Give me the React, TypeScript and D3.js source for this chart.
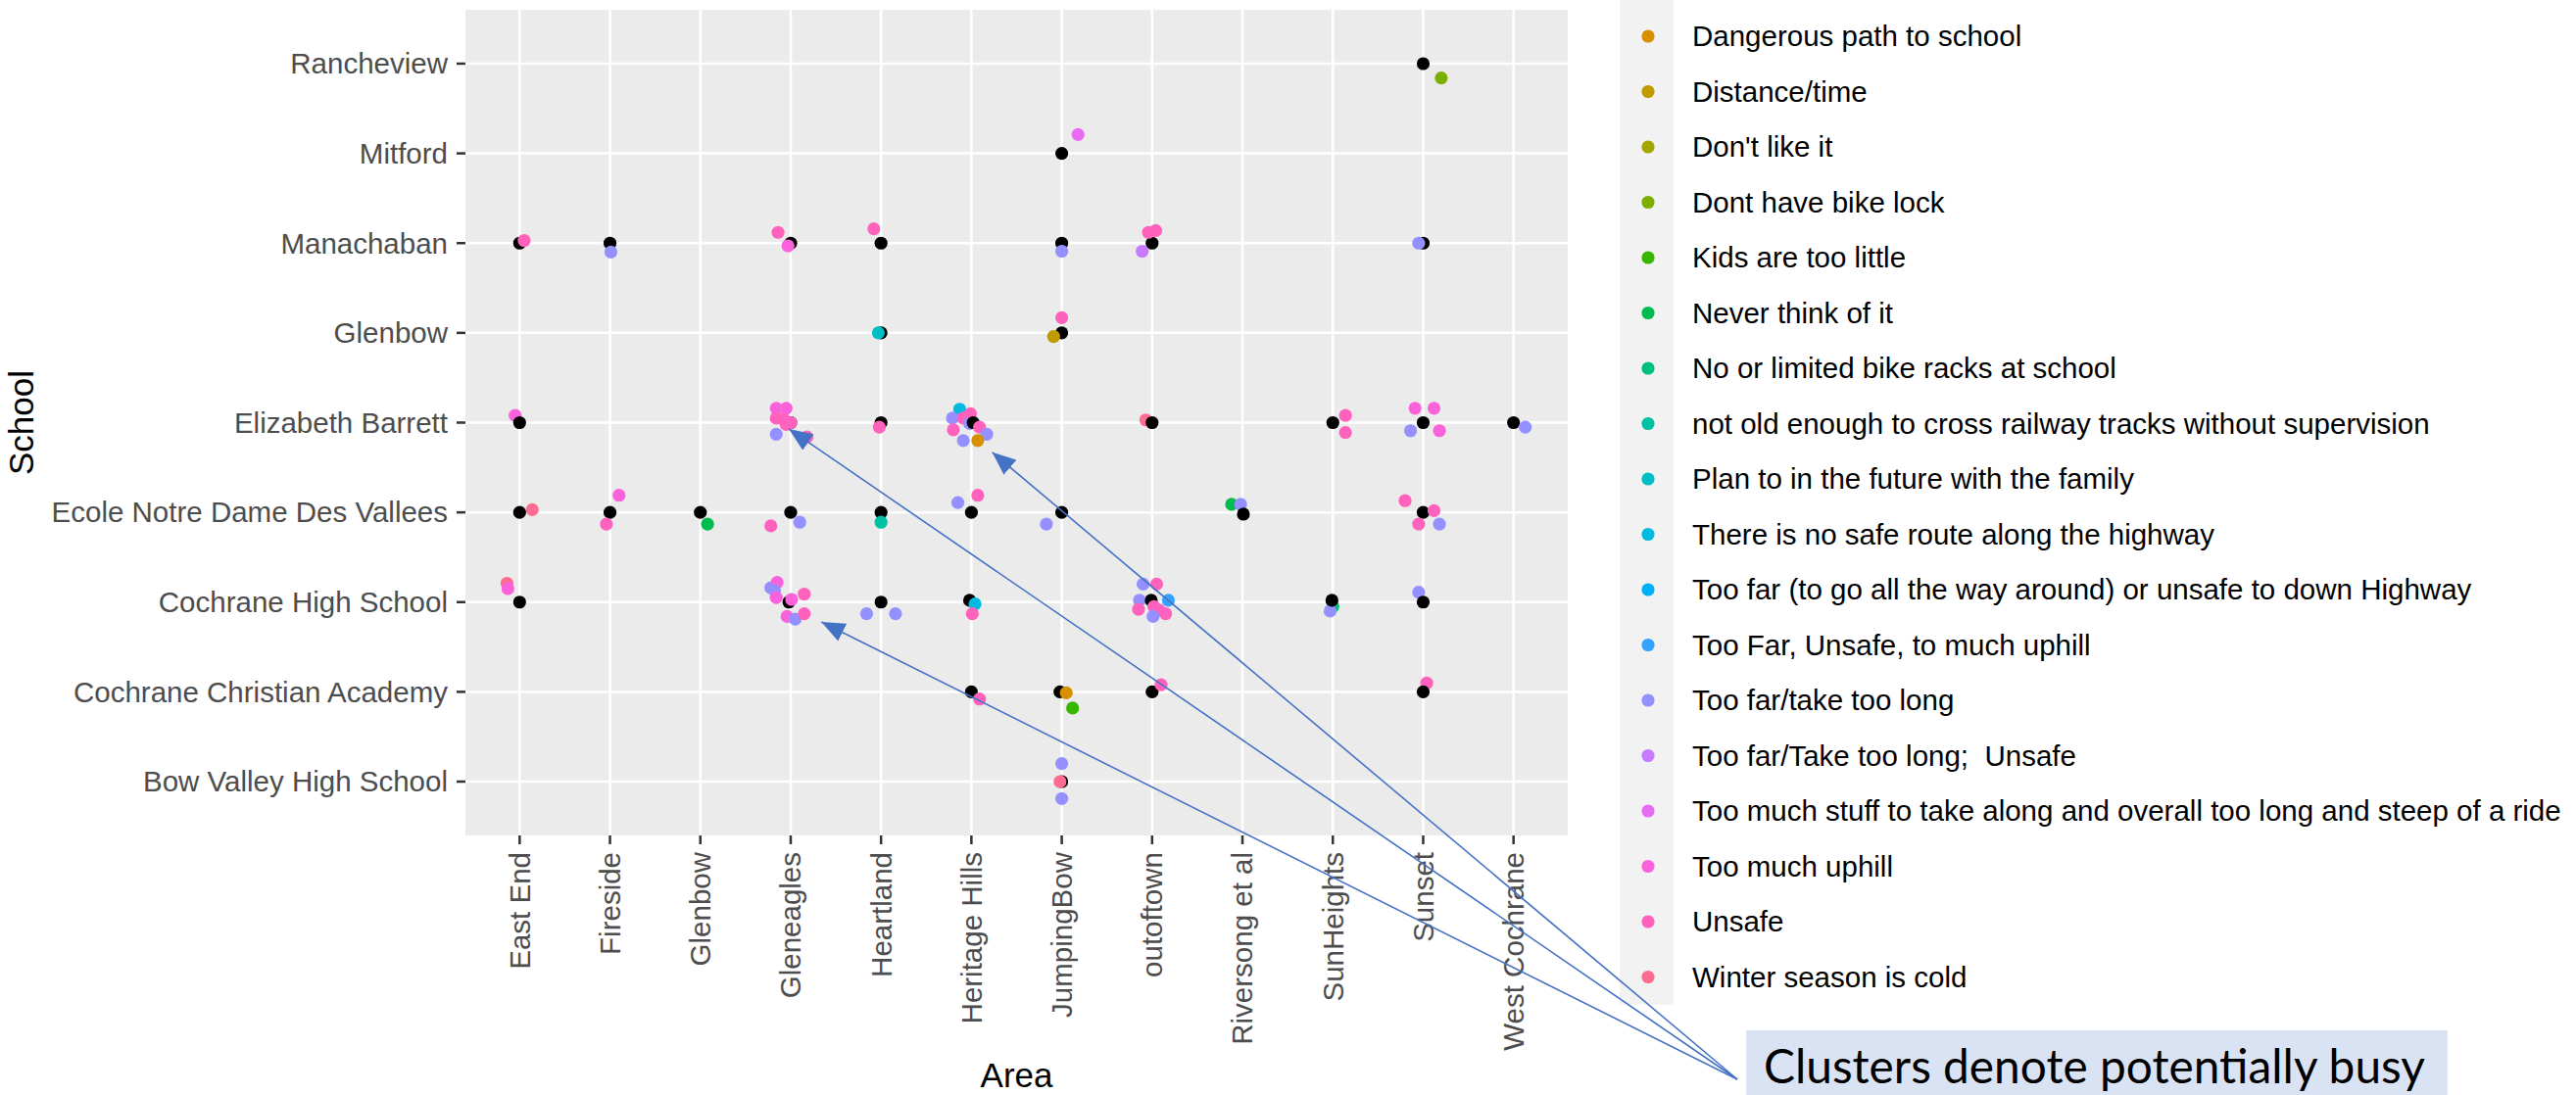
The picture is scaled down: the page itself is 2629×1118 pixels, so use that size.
import React from "react";
import * as d3 from "d3";

// ---------- data ----------
const AREAS = [
  "East End", "Fireside", "Glenbow", "Gleneagles", "Heartland", "Heritage Hills",
  "JumpingBow", "outoftown", "Riversong et al", "SunHeights", "Sunset", "West Cochrane",
];

const SCHOOLS = [
  "Bow Valley High School", "Cochrane Christian Academy", "Cochrane High School",
  "Ecole Notre Dame Des Vallees", "Elizabeth Barrett", "Glenbow", "Manachaban",
  "Mitford", "Rancheview",
];

const REASON_KEYS = ["D", "DT", "DL", "BL", "KD", "N", "R", "O", "P", "H", "TF", "TFU", "FL", "FLU", "MS", "U", "UN", "W"];

const REASON_LABELS = [
  "Dangerous path to school",
  "Distance/time",
  "Don't like it",
  "Dont have bike lock",
  "Kids are too little",
  "Never think of it",
  "No or limited bike racks at school",
  "not old enough to cross railway tracks without supervision",
  "Plan to in the future with the family",
  "There is no safe route along the highway",
  "Too far (to go all the way around) or unsafe to down Highway",
  "Too Far, Unsafe, to much uphill",
  "Too far/take too long",
  "Too far/Take too long;  Unsafe",
  "Too much stuff to take along and overall too long and steep of a ride",
  "Too much uphill",
  "Unsafe",
  "Winter season is cold",
];

const REASON_COLORS = [
  "#D89000", "#C09B00", "#A3A500", "#7CAE00", "#39B600", "#00BB4E", "#00BF7D", "#00C1A3",
  "#00BFC4", "#00BAE0", "#00B0F6", "#35A2FF", "#9590FF", "#C77CFF", "#E76BF3", "#FA62DB",
  "#FF62BC", "#FF6C91",
];

// [area, school, reason key (null = respondent marker), jitter x, jitter y] (jitter in category units)
const EE = "East End", FS = "Fireside", GB = "Glenbow", GE = "Gleneagles", HL = "Heartland",
  HH = "Heritage Hills", JB = "JumpingBow", OT = "outoftown", RS = "Riversong et al",
  SH = "SunHeights", SS = "Sunset", WC = "West Cochrane";
const BV = "Bow Valley High School", CC = "Cochrane Christian Academy", CH = "Cochrane High School",
  EC = "Ecole Notre Dame Des Vallees", EB = "Elizabeth Barrett", GL = "Glenbow", MN = "Manachaban",
  MF = "Mitford", RV = "Rancheview";

const RESPONSES: [string, string, string | null, number, number][] = [
  [EE, MN, null, 0, 0], [EE, MN, "UN", 0.05, 0.03],
  [EE, EB, "U", -0.05, 0.08], [EE, EB, null, 0, 0],
  [EE, EC, null, 0, 0], [EE, EC, "W", 0.14, 0.03],
  [EE, CH, "W", -0.14, 0.21], [EE, CH, "U", -0.13, 0.15], [EE, CH, null, 0, 0],

  [FS, MN, null, 0, 0], [FS, MN, "FL", 0.01, -0.1],
  [FS, EC, null, 0, 0], [FS, EC, "U", 0.1, 0.19], [FS, EC, "UN", -0.04, -0.13],

  [GB, EC, null, 0, 0], [GB, EC, "N", 0.08, -0.13],

  [GE, MN, null, 0, 0], [GE, MN, "UN", -0.14, 0.12], [GE, MN, "U", -0.03, -0.03],
  [GE, EB, null, 0, 0], [GE, EB, "U", -0.16, 0.16], [GE, EB, "U", -0.05, 0.16], [GE, EB, "UN", -0.16, 0.05],
  [GE, EB, "UN", -0.08, 0.04], [GE, EB, "UN", 0, 0], [GE, EB, "UN", -0.05, -0.02], [GE, EB, "FL", -0.16, -0.13],
  [GE, EB, "UN", 0.18, -0.16],
  [GE, EC, null, 0, 0], [GE, EC, "UN", -0.22, -0.15], [GE, EC, "FL", 0.1, -0.11],
  [GE, CH, "FL", -0.22, 0.16], [GE, CH, "U", -0.15, 0.22], [GE, CH, "FL", -0.18, 0.13], [GE, CH, "U", -0.16, 0.05],
  [GE, CH, null, -0.02, 0], [GE, CH, "U", 0.01, 0.03], [GE, CH, "UN", 0.15, 0.09], [GE, CH, "U", -0.04, -0.16],
  [GE, CH, "FL", 0.05, -0.19], [GE, CH, "UN", 0.15, -0.13],

  [HL, MN, null, 0, 0], [HL, MN, "UN", -0.08, 0.16],
  [HL, GL, null, 0, 0], [HL, GL, "P", -0.03, 0],
  [HL, EB, null, 0, 0], [HL, EB, "UN", -0.02, -0.05],
  [HL, EC, null, 0, 0], [HL, EC, "O", 0, -0.11],
  [HL, CH, null, 0, 0], [HL, CH, "FL", -0.16, -0.13], [HL, CH, "FL", 0.16, -0.13],

  [HH, EB, "H", -0.13, 0.15], [HH, EB, "FL", -0.21, 0.05], [HH, EB, "UN", -0.01, 0.1], [HH, EB, "UN", -0.09, 0.05],
  [HH, EB, "FL", -0.02, -0.01], [HH, EB, null, 0.02, 0], [HH, EB, "UN", 0.09, -0.05], [HH, EB, "UN", -0.2, -0.08],
  [HH, EB, "FL", -0.09, -0.2], [HH, EB, "FL", 0.17, -0.13], [HH, EB, "D", 0.07, -0.2],
  [HH, EC, null, 0, 0], [HH, EC, "FL", -0.15, 0.11], [HH, EC, "UN", 0.07, 0.19],
  [HH, CH, null, -0.02, 0.02], [HH, CH, "H", 0.04, -0.02], [HH, CH, "UN", 0.01, -0.13],
  [HH, CC, null, 0, 0], [HH, CC, "UN", 0.09, -0.08],

  [JB, MF, null, 0, 0], [JB, MF, "MS", 0.18, 0.21],
  [JB, MN, null, 0, 0], [JB, MN, "FL", 0, -0.09],
  [JB, GL, "UN", 0, 0.17], [JB, GL, null, 0, 0], [JB, GL, "DT", -0.09, -0.04],
  [JB, EC, null, 0, 0], [JB, EC, "FL", -0.17, -0.13],
  [JB, CC, null, -0.02, 0], [JB, CC, "D", 0.05, -0.01], [JB, CC, "KD", 0.12, -0.18],
  [JB, BV, "FL", 0, 0.2], [JB, BV, null, 0, 0], [JB, BV, "W", -0.02, 0], [JB, BV, "FL", 0, -0.19],

  [OT, MN, null, 0, 0], [OT, MN, "UN", -0.04, 0.12], [OT, MN, "UN", 0.04, 0.14], [OT, MN, "FLU", -0.11, -0.09],
  [OT, EB, "W", -0.07, 0.03], [OT, EB, null, 0, 0],
  [OT, CH, "FL", -0.1, 0.2], [OT, CH, "UN", 0.05, 0.2], [OT, CH, "FL", -0.14, 0.02], [OT, CH, null, -0.01, 0.02],
  [OT, CH, "TFU", 0.18, 0.02], [OT, CH, "UN", -0.15, -0.08], [OT, CH, "UN", 0.02, -0.05], [OT, CH, "UN", 0.08, -0.09],
  [OT, CH, "FL", 0.01, -0.16], [OT, CH, "UN", 0.15, -0.13],
  [OT, CC, null, 0, 0], [OT, CC, "UN", 0.1, 0.08],

  [RS, EC, "N", -0.12, 0.09], [RS, EC, "FL", -0.02, 0.09], [RS, EC, null, 0.01, -0.02],

  [SH, EB, null, 0, 0], [SH, EB, "UN", 0.14, 0.08], [SH, EB, "UN", 0.14, -0.11],
  [SH, CH, "R", 0, -0.05], [SH, CH, "FL", -0.03, -0.1], [SH, CH, null, -0.01, 0.02],

  [SS, RV, null, 0, 0], [SS, RV, "BL", 0.2, -0.16],
  [SS, MN, null, 0, 0], [SS, MN, "FL", -0.05, 0],
  [SS, EB, null, 0, 0], [SS, EB, "U", -0.09, 0.16], [SS, EB, "U", 0.12, 0.16], [SS, EB, "FL", -0.14, -0.09], [SS, EB, "U", 0.18, -0.09],
  [SS, EC, null, 0, 0], [SS, EC, "UN", -0.2, 0.13], [SS, EC, "UN", 0.12, 0.02], [SS, EC, "UN", -0.05, -0.13], [SS, EC, "FL", 0.18, -0.13],
  [SS, CH, "FL", -0.05, 0.11], [SS, CH, null, 0, 0],
  [SS, CC, "UN", 0.04, 0.1], [SS, CC, null, 0, 0],

  [WC, EB, null, 0, 0], [WC, EB, "FL", 0.13, -0.05],
];

// annotation arrows point at these cluster locations: [area, school, offset x, offset y]
const ARROW_TARGETS: [string, string, number, number][] = [
  [GE, EB, -0.02, -0.07],
  [HH, EB, 0.23, -0.33],
  [GE, CH, 0.34, -0.22],
];
const ANNOTATION = "Clusters denote potentially busy";

// ---------- layout ----------
const W = 2629, H = 1118;
const PANEL = { left: 475, right: 1600, top: 10, bottom: 853 };
const FONT = "'Liberation Sans', Arial, sans-serif";
const AXIS_FS = 29.5;
const R = 6.6;

export default function App() {
  const x = d3.scalePoint<string>().domain(AREAS).range([PANEL.left, PANEL.right]).padding(0.6);
  const y = d3.scalePoint<string>().domain(SCHOOLS).range([PANEL.bottom, PANEL.top]).padding(0.6);
  const sx = x.step();
  const sy = y.step();
  const colorOf = (k: string | null) =>
    k === null ? "#000000" : REASON_COLORS[REASON_KEYS.indexOf(k)];

  const legendTop = 37;
  const legendStep = 56.5;
  const legendKeyX = 1682;

  const arrowStart = { x: 1773, y: 1102 };

  return (
    <svg
      width={W}
      height={H}
      style={{ position: "absolute", left: 0, top: 0, display: "block", background: "#fff" }}
      fontFamily={FONT}
    >
      <defs>
        <marker id="ah" viewBox="0 0 24 20" refX="24" refY="10" markerWidth="24" markerHeight="20"
          markerUnits="userSpaceOnUse" orient="auto">
          <path d="M0,0 L24,10 L0,20 Z" fill="#4472C4" />
        </marker>
      </defs>

      {/* panel */}
      <rect x={PANEL.left} y={PANEL.top} width={PANEL.right - PANEL.left}
        height={PANEL.bottom - PANEL.top} fill="#EBEBEB" />
      {AREAS.map((a) => (
        <line key={"gx" + a} x1={x(a)} x2={x(a)} y1={PANEL.top} y2={PANEL.bottom}
          stroke="#FFFFFF" strokeWidth={2.5} />
      ))}
      {SCHOOLS.map((s) => (
        <line key={"gy" + s} x1={PANEL.left} x2={PANEL.right} y1={y(s)} y2={y(s)}
          stroke="#FFFFFF" strokeWidth={2.5} />
      ))}

      {/* points */}
      {RESPONSES.map(([a, s, k, dx, dy], i) => (
        <circle key={"p" + i} cx={(x(a) as number) + dx * sx} cy={(y(s) as number) - dy * sy}
          r={R} fill={colorOf(k)} />
      ))}

      {/* y axis */}
      {SCHOOLS.map((s) => (
        <g key={"ty" + s}>
          <line x1={PANEL.left - 9} x2={PANEL.left} y1={y(s)} y2={y(s)} stroke="#333333" strokeWidth={2.5} />
          <text x={PANEL.left - 18} y={y(s)} dy="0.35em" textAnchor="end" fontSize={AXIS_FS} fill="#4D4D4D">
            {s}
          </text>
        </g>
      ))}
      {/* x axis */}
      {AREAS.map((a) => (
        <g key={"tx" + a}>
          <line x1={x(a)} x2={x(a)} y1={PANEL.bottom} y2={PANEL.bottom + 9} stroke="#333333" strokeWidth={2.5} />
          <text transform={`translate(${x(a)},${PANEL.bottom + 17}) rotate(-90)`} dy="0.35em"
            textAnchor="end" fontSize={AXIS_FS} fill="#4D4D4D">
            {a}
          </text>
        </g>
      ))}

      {/* axis titles */}
      <text x={(PANEL.left + PANEL.right) / 2} y={1110} textAnchor="middle" fontSize={35} fill="#000">
        Area
      </text>
      <text transform={`translate(34,${(PANEL.top + PANEL.bottom) / 2}) rotate(-90)`} textAnchor="middle"
        fontSize={35} fill="#000">
        School
      </text>

      {/* legend */}
      <rect x={1653} y={0} width={55} height={legendTop + (REASON_LABELS.length - 0.5) * legendStep}
        fill="#F2F2F2" />
      {REASON_LABELS.map((lab, i) => (
        <g key={"lg" + i}>
          <circle cx={legendKeyX} cy={legendTop + i * legendStep} r={R} fill={REASON_COLORS[i]} />
          <text x={1727} y={legendTop + i * legendStep} dy="0.35em" fontSize={AXIS_FS} fill="#000"
            style={{ whiteSpace: "pre" }}>
            {lab}
          </text>
        </g>
      ))}

      {/* annotation */}
      {ARROW_TARGETS.map(([a, s, dx, dy], i) => (
        <line key={"ar" + i} x1={arrowStart.x} y1={arrowStart.y}
          x2={(x(a) as number) + dx * sx} y2={(y(s) as number) - dy * sy}
          stroke="#4472C4" strokeWidth={1.6} markerEnd="url(#ah)" />
      ))}
      <rect x={1782} y={1052} width={716} height={90} fill="#DAE3F3" />
      <text x={1800} y={1106} fontSize={48} fontFamily="Lato, 'Open Sans', sans-serif" fill="#000"
        textLength={675} lengthAdjust="spacingAndGlyphs">
        {ANNOTATION}
      </text>
    </svg>
  );
}
